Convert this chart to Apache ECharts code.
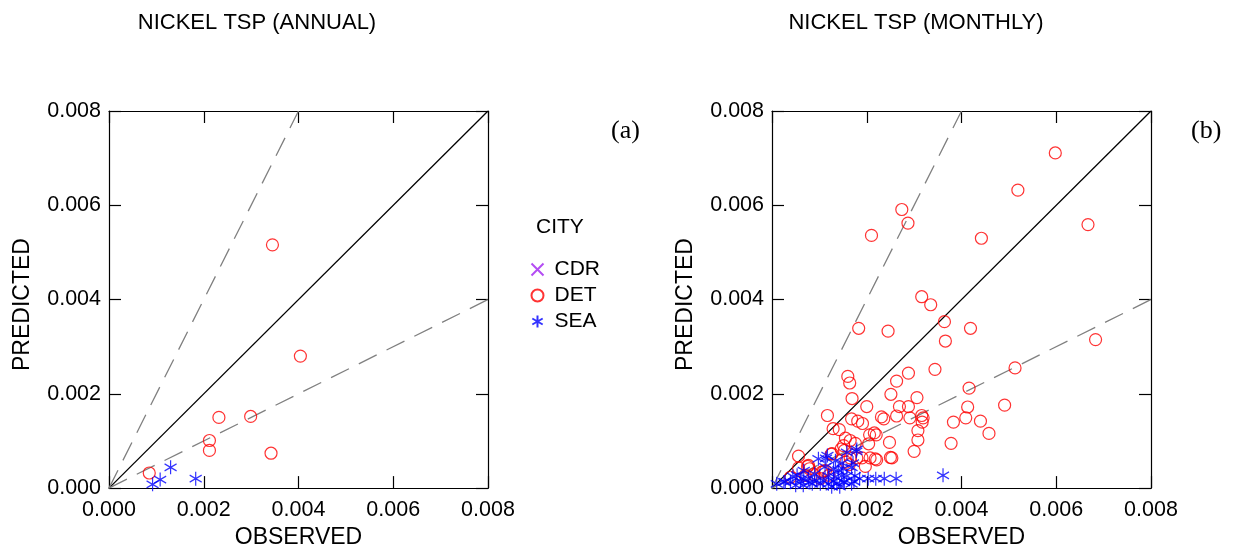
<!DOCTYPE html>
<html>
<head>
<meta charset="utf-8">
<script src="https://cdn.jsdelivr.net/npm/echarts@6/dist/echarts.min.js"></script>
<style>
html,body{margin:0;padding:0;background:#fff;}
#c{width:1237px;height:554px;}
</style>
</head>
<body>
<div id="c"></div>
<script>
// ---------- data ----------
const panelTitles = ['NICKEL TSP (ANNUAL)', 'NICKEL TSP (MONTHLY)'];
const panelTags = ['(a)', '(b)'];
const cities = ['CDR', 'DET', 'SEA'];
const tickValues = [0, 0.002, 0.004, 0.006, 0.008];

// Annual (panel a): [observed, predicted]
const annualDET = [
  [0.00345, 0.00516], [0.00404, 0.00280], [0.00232, 0.00150], [0.00299, 0.00152],
  [0.00212, 0.00101], [0.00212, 0.00080], [0.00342, 0.00074], [0.00085, 0.00032]
];
const annualSEA = [
  [0.00130, 0.00044], [0.00108, 0.00018], [0.00092, 0.00008], [0.00183, 0.00020]
];
const annualCDR = [];

// Monthly (panel b): [observed, predicted]
const monthlyDET = [
  [0.00598, 0.00711], [0.00519, 0.00632], [0.00274, 0.00591], [0.00287, 0.00562],
  [0.00210, 0.00536], [0.00442, 0.00530], [0.00667, 0.00559], [0.00316, 0.00406],
  [0.00335, 0.00389], [0.00364, 0.00353], [0.00183, 0.00339], [0.00245, 0.00333],
  [0.00419, 0.00339], [0.00366, 0.00312], [0.00683, 0.00315], [0.00344, 0.00252],
  [0.00513, 0.00255], [0.00288, 0.00244], [0.00160, 0.00237], [0.00164, 0.00223],
  [0.00263, 0.00227], [0.00416, 0.00212], [0.00169, 0.00190], [0.00251, 0.00199],
  [0.00306, 0.00192], [0.00200, 0.00173], [0.00269, 0.00173], [0.00288, 0.00173],
  [0.00413, 0.00172], [0.00491, 0.00176], [0.00117, 0.00154], [0.00168, 0.00147],
  [0.00181, 0.00142], [0.00191, 0.00137], [0.00231, 0.00151], [0.00236, 0.00147],
  [0.00263, 0.00153], [0.00291, 0.00149], [0.00316, 0.00154], [0.00319, 0.00149],
  [0.00317, 0.00140], [0.00383, 0.00140], [0.00409, 0.00149], [0.00440, 0.00142],
  [0.00458, 0.00116], [0.00308, 0.00122], [0.00308, 0.00102], [0.00378, 0.00095],
  [0.00300, 0.00078], [0.00129, 0.00126], [0.00142, 0.00124], [0.00206, 0.00113],
  [0.00216, 0.00117], [0.00220, 0.00113], [0.00248, 0.00097], [0.00250, 0.00065],
  [0.00204, 0.00094], [0.00155, 0.00106], [0.00165, 0.00101], [0.00176, 0.00095],
  [0.00146, 0.00083], [0.00153, 0.00080], [0.00127, 0.00073], [0.00056, 0.00068],
  [0.00165, 0.00064], [0.00179, 0.00064], [0.00190, 0.00064], [0.00207, 0.00064],
  [0.00221, 0.00060], [0.00197, 0.00046], [0.00163, 0.00050], [0.00156, 0.00055],
  [0.00113, 0.00037], [0.00105, 0.00034], [0.00077, 0.00048], [0.00079, 0.00041],
  [0.00056, 0.00043], [0.00039, 0.00023], [0.00070, 0.00027], [0.00088, 0.00029],
  [0.00102, 0.00020], [0.00120, 0.00027], [0.00075, 0.00046], [0.00109, 0.00036],
  [0.00253, 0.00064], [0.00218, 0.00062], [0.00125, 0.00072], [0.00151, 0.00090]
];
const monthlySEA = [
  [0.00158, 0.00076], [0.00178, 0.00078], [0.00117, 0.00069], [0.00098, 0.00062],
  [0.00134, 0.00058], [0.00148, 0.00053], [0.00171, 0.00053], [0.00168, 0.00044],
  [0.00067, 0.00037], [0.00130, 0.00040], [0.00140, 0.00038], [0.00150, 0.00041],
  [0.00119, 0.00026], [0.00133, 0.00024], [0.00147, 0.00026], [0.00053, 0.00027],
  [0.00063, 0.00020], [0.00077, 0.00020], [0.00094, 0.00016], [0.00108, 0.00016],
  [0.00039, 0.00013], [0.00025, 0.00013], [0.00010, 0.00009], [0.00085, 0.00009],
  [0.00102, 0.00009], [0.00119, 0.00009], [0.00137, 0.00010], [0.00152, 0.00012],
  [0.00173, 0.00014], [0.00066, 0.00006], [0.00050, 0.00006], [0.00143, 0.00003],
  [0.00126, 0.00003], [0.00203, 0.00020], [0.00219, 0.00020], [0.00237, 0.00020],
  [0.00262, 0.00020], [0.00158, 0.00026], [0.00175, 0.00026], [0.00152, 0.00013],
  [0.00168, 0.00009], [0.00361, 0.00027], [0.00114, 0.00063], [0.00179, 0.00082],
  [0.00044, 0.00025], [0.00028, 0.00013], [0.00090, 0.00030], [0.00112, 0.00045],
  [0.00080, 0.00012], [0.00060, 0.00015], [0.00130, 0.00015], [0.00185, 0.00020]
];
const monthlyCDR = [];

// reference lines (1:1, 2:1, 1:2)
const lineOneToOne = [[0, 0], [0.008, 0.008]];
const lineTwoToOne = [[0, 0], [0.004, 0.008]];
const lineOneToTwo = [[0, 0], [0.008, 0.004]];

// ---------- chart ----------
const FONT = 'Liberation Sans, Arial, sans-serif';
const SERIF = 'Liberation Serif, Times New Roman, serif';
const asterisk = 'path://M0,-1L0,1M-0.866,-0.5L0.866,0.5M-0.866,0.5L0.866,-0.5';
const cross = 'path://M-1,-1L1,1M-1,1L1,-1';

const grids = [
  {left: 109, top: 111, width: 379, height: 378},
  {left: 772, top: 111, width: 379, height: 378}
];

function mainX(i) {
  return {
    type: 'value', gridIndex: i, min: 0, max: 0.008, interval: 0.002, position: 'bottom',
    name: 'OBSERVED', nameLocation: 'middle', nameGap: 37,
    nameTextStyle: {fontFamily: FONT, fontSize: 23, color: '#000'},
    axisLine: {show: true, onZero: false, lineStyle: {color: '#000', width: 1.2}},
    axisTick: {show: true, inside: true, length: 12, lineStyle: {color: '#000', width: 1.2}},
    axisLabel: {fontFamily: FONT, fontSize: 21.5, color: '#000', margin: 11,
      formatter: v => v.toFixed(3), showMinLabel: true, showMaxLabel: true},
    splitLine: {show: false}
  };
}
function mainY(i) {
  return {
    type: 'value', gridIndex: i, min: 0, max: 0.008, interval: 0.002, position: 'left',
    name: 'PREDICTED', nameLocation: 'middle', nameGap: 75,
    nameTextStyle: {fontFamily: FONT, fontSize: 23, color: '#000', padding: [0, 10, 0, 0]},
    axisLine: {show: true, onZero: false, lineStyle: {color: '#000', width: 1.2}},
    axisTick: {show: true, inside: true, length: 12, lineStyle: {color: '#000', width: 1.2}},
    axisLabel: {fontFamily: FONT, fontSize: 21.5, color: '#000', margin: 8,
      formatter: v => v.toFixed(3), showMinLabel: true, showMaxLabel: true},
    splitLine: {show: false}
  };
}
function mirrorX(i) {
  return {
    type: 'value', gridIndex: i, min: 0, max: 0.008, interval: 0.002, position: 'top',
    axisLine: {show: true, onZero: false, lineStyle: {color: '#000', width: 1.2}},
    axisTick: {show: true, inside: true, length: 12, lineStyle: {color: '#000', width: 1.2}},
    axisLabel: {show: false}, splitLine: {show: false}
  };
}
function mirrorY(i) {
  return {
    type: 'value', gridIndex: i, min: 0, max: 0.008, interval: 0.002, position: 'right',
    axisLine: {show: true, onZero: false, lineStyle: {color: '#000', width: 1.2}},
    axisTick: {show: true, inside: true, length: 12, lineStyle: {color: '#000', width: 1.2}},
    axisLabel: {show: false}, splitLine: {show: false}
  };
}

function refLines(i) {
  const base = {type: 'line', xAxisIndex: i, yAxisIndex: i, symbol: 'none', silent: true,
    animation: false, z: 1};
  return [
    Object.assign({}, base, {name: 'ref1_' + i, data: lineOneToOne,
      lineStyle: {color: '#000', width: 1.3}}),
    Object.assign({}, base, {name: 'ref2_' + i, data: lineTwoToOne,
      lineStyle: {color: '#808080', width: 1.3, type: [20, 11]}}),
    Object.assign({}, base, {name: 'ref3_' + i, data: lineOneToTwo,
      lineStyle: {color: '#808080', width: 1.3, type: [20, 11]}})
  ];
}

function cityScatter(i, cdr, det, sea) {
  const b = {type: 'scatter', xAxisIndex: i, yAxisIndex: i, clip: false, animation: false, z: 3};
  return [
    Object.assign({}, b, {name: 'CDR', data: cdr, symbol: cross, symbolSize: 10,
      itemStyle: {color: 'none', borderColor: '#a020f0', borderWidth: 1.2}}),
    Object.assign({}, b, {name: 'DET', data: det, symbol: 'circle', symbolSize: 12,
      itemStyle: {color: 'none', borderColor: '#ff0000', borderWidth: 1.2}}),
    Object.assign({}, b, {name: 'SEA', data: sea, symbol: asterisk, symbolSize: [12, 14],
      itemStyle: {color: 'none', borderColor: '#0000ff', borderWidth: 1.3}})
  ];
}

const option = {
  backgroundColor: '#fff',
  animation: false,
  title: [
    {text: panelTitles[0], left: 252, top: 7, textAlign: 'center',
      textStyle: {fontFamily: FONT, fontSize: 22, fontWeight: 'normal', color: '#000'}},
    {text: panelTitles[1], left: 911, top: 7, textAlign: 'center',
      textStyle: {fontFamily: FONT, fontSize: 22, fontWeight: 'normal', color: '#000'}},
    {text: panelTags[0], left: 606, top: 113,
      textStyle: {fontFamily: SERIF, fontSize: 26, fontWeight: 'normal', color: '#000'}},
    {text: panelTags[1], left: 1186, top: 113,
      textStyle: {fontFamily: SERIF, fontSize: 26, fontWeight: 'normal', color: '#000'}},
    {text: 'CITY', left: 531, top: 212,
      textStyle: {fontFamily: FONT, fontSize: 21, fontWeight: 'normal', color: '#000'}}
  ],
  legend: {
    data: cities, orient: 'vertical', left: 524, top: 254, itemGap: 5,
    itemWidth: 12, itemHeight: 12, selectedMode: false,
    textStyle: {fontFamily: FONT, fontSize: 21, color: '#000', padding: [0, 0, 0, 6]}
  },
  grid: grids,
  xAxis: [mainX(0), mainX(1), mirrorX(0), mirrorX(1)],
  yAxis: [mainY(0), mainY(1), mirrorY(0), mirrorY(1)],
  series: [].concat(
    refLines(0), refLines(1),
    cityScatter(0, annualCDR, annualDET, annualSEA),
    cityScatter(1, monthlyCDR, monthlyDET, monthlySEA)
  )
};

const chart = echarts.init(document.getElementById('c'), null, {renderer: 'canvas'});
chart.setOption(option);
</script>
</body>
</html>
